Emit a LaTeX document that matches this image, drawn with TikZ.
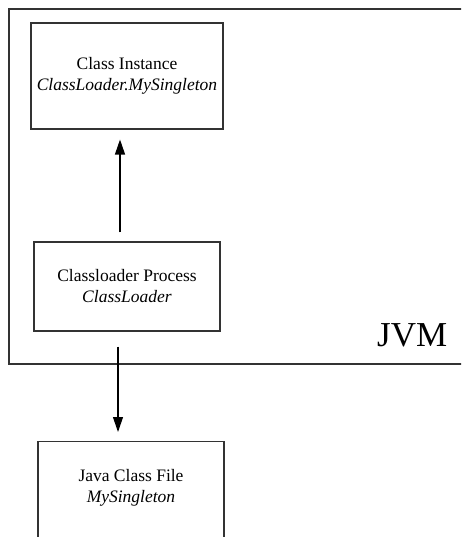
\documentclass[tikz,border=0pt]{standalone}
\usepackage{fontspec}
\setmainfont{Liberation Serif}
\usetikzlibrary{arrows.meta}
\begin{document}
\begin{tikzpicture}[x=1pt,y=-1pt,
  box/.style={draw=black!80,line width=1.1pt,inner sep=0pt,align=center,
    font=\fontsize{17.5}{21}\selectfont},
  label/.style={inner sep=0pt,align=center,font=\fontsize{17.5}{21}\selectfont},
  arr/.style={draw=black,line width=1.1pt,-{Triangle[length=15pt,width=10pt]}}]
\path[use as bounding box,clip] (0,0) rectangle (461,537);
\fill[white] (0,0) rectangle (461,537);
% JVM frame
\draw[black!80,line width=1.1pt] (480,9) -- (9,9) -- (9,364) -- (480,364);
\node[anchor=base west,inner sep=0pt,font=\fontsize{35}{40}\selectfont] (jvm) at (377,346) {JVM};
% boxes
\node[box,minimum width=192pt,minimum height=106pt] (ci) at (127,76)
  {Class Instance\\\textit{ClassLoader.MySingleton}};
\node[box,minimum width=186pt,minimum height=89pt] (cl) at (127,286.5)
  {Classloader Process\\\textit{ClassLoader}};
\node[box,minimum width=186pt,minimum height=140pt,anchor=north] (jf) at (131,441) {};
\node[label] (jft) at (131,487.5) {Java Class File\\\textit{MySingleton}};
% arrows
\draw[arr] ([xshift=-7pt,yshift=9pt]cl.north) -- ([xshift=-7pt,yshift=-10pt]ci.south);
\draw[arr] ([xshift=-9pt,yshift=-15pt]cl.south) -- ([xshift=-13pt,yshift=9pt]jf.north);
\end{tikzpicture}
\end{document}
